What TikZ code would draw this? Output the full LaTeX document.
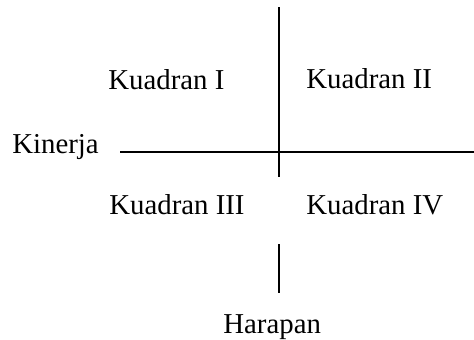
\documentclass[tikz,border=0pt]{standalone}
\usepackage{fontspec}
\setmainfont{Liberation Serif}
\usetikzlibrary{positioning}

\begin{document}
\begin{tikzpicture}[
  x=0.5pt,y=-0.5pt,
  lbl/.style={anchor=base west,inner sep=0pt,font=\fontsize{14.4}{17}\selectfont},
  axis/.style={draw=black,line width=1pt}]
\useasboundingbox (0,0) rectangle (474,339);
% axis end points
\coordinate (vtop) at (278.7,7);
\coordinate (vmid) at (278.7,177);
\coordinate (vlow) at (278.7,244);
\coordinate (vbot) at (278.7,293);
\coordinate (hleft) at (120,152);
\coordinate (hright) at (474,152);
% labels
\node[lbl] (kin) at (12,153) {Kinerja};
\node[lbl] (q1) at (108,89) {Kuadran I};
\node[lbl] (q2) at (306,88) {Kuadran II};
\node[lbl] (q3) at (109,214) {Kuadran III};
\node[lbl] (q4) at (306,214) {Kuadran IV};
\node[lbl] (har) at (223,333) {Harapan};
% axes
\draw[axis] (hleft) -- (hright);
\draw[axis] (vtop) -- (vmid);
\draw[axis] (vlow) -- (vbot);
\end{tikzpicture}
\end{document}
